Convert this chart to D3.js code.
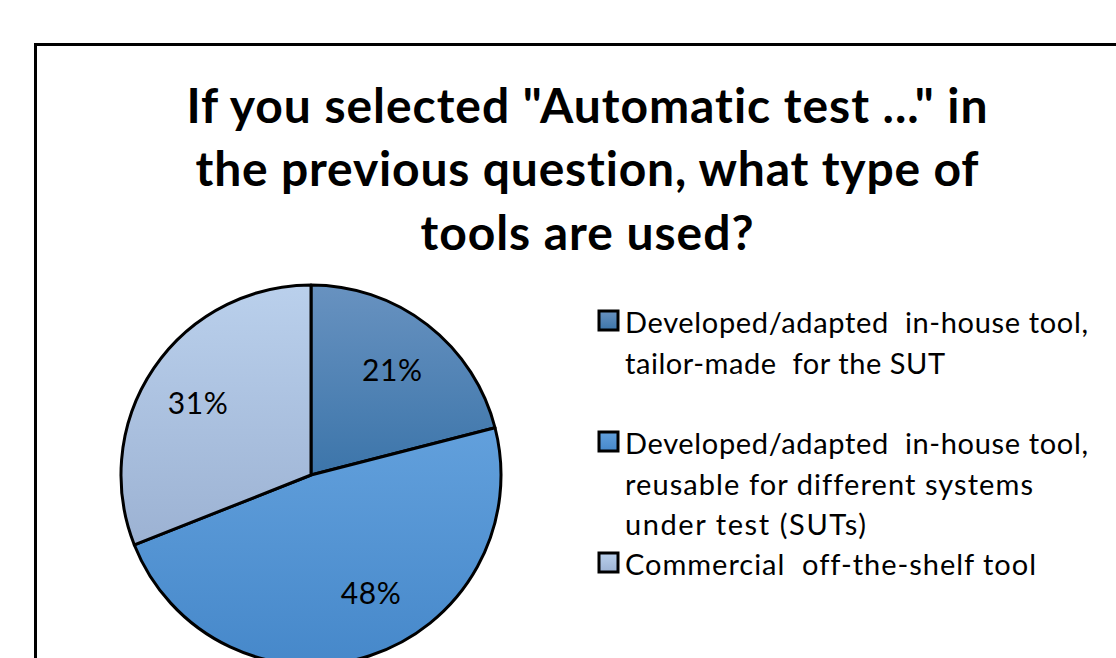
<!DOCTYPE html>
<html>
<head>
<meta charset="utf-8">
<script src="https://cdn.jsdelivr.net/npm/d3@7"></script>
<style>
  html, body { margin: 0; padding: 0; background: #fff; overflow: hidden; }
  svg { display: block; }
  text { font-variant-ligatures: none; }
</style>
</head>
<body>
<svg id="chart" width="1116" height="658"></svg>
<script>
// Survey answers (share of respondents)
const categories = [
  "Developed/adapted in-house tool, tailor-made for the SUT",
  "Developed/adapted in-house tool, reusable for different systems under test (SUTs)",
  "Commercial off-the-shelf tool"
];
const values = [21, 48, 31];
const valueLabels = ["21%", "48%", "31%"];
const legendLines = [
  ["Developed/adapted  in-house tool,", "tailor-made  for the SUT"],
  ["Developed/adapted  in-house tool,", "reusable for different systems", "under test (SUTs)"],
  ["Commercial  off-the-shelf tool"]
];
const titleLines = [
  "If you selected \"Automatic test ...\" in",
  "the previous question, what type of",
  "tools are used?"
];
// gradient stops per slice: [top, bottom]
const sliceGradients = [
  ["#6892c0", "#3c75aa"],
  ["#62a0dc", "#4688ca"],
  ["#bad0ec", "#9cb2d3"]
];

const svg = d3.select("#chart");
const font = "Lato, 'Open Sans', sans-serif";

// chart frame
svg.append("rect")
  .attr("x", 35.5).attr("y", 44.5)
  .attr("width", 1200).attr("height", 800)
  .attr("fill", "#fff").attr("stroke", "#000").attr("stroke-width", 3);

// title, each line stretched to its set width
const titleWidths = [801, 783, 333];
const titleBase = [123, 186, 250];
const titleG = svg.append("g");
titleLines.forEach((t, i) => {
  titleG.append("text")
    .attr("x", 587).attr("y", titleBase[i])
    .attr("text-anchor", "middle")
    .attr("font-family", font)
    .attr("font-weight", 700)
    .attr("font-size", 48)
    .attr("textLength", titleWidths[i])
    .attr("lengthAdjust", "spacing")
    .text(t);
});

// pie
const cx = 311, cy = 475, r = 190;
const defs = svg.append("defs");
sliceGradients.forEach((g, i) => {
  const lg = defs.append("linearGradient")
    .attr("id", "slice-grad-" + i)
    .attr("x1", 0).attr("y1", 0).attr("x2", 0).attr("y2", 1);
  lg.append("stop").attr("offset", "0%").attr("stop-color", g[0]);
  lg.append("stop").attr("offset", "100%").attr("stop-color", g[1]);
});

const pie = d3.pie().sort(null).value(d => d);
const arcs = pie(values);
const arc = d3.arc().innerRadius(0).outerRadius(r);

const pieG = svg.append("g").attr("transform", `translate(${cx},${cy})`);
pieG.selectAll("path.slice")
  .data(arcs)
  .join("path")
  .attr("class", "slice")
  .attr("d", arc)
  .attr("fill", (d, i) => `url(#slice-grad-${i})`)
  .attr("stroke", "#000")
  .attr("stroke-width", 3)
  .attr("stroke-linejoin", "round");

// value labels (best-fit nudges from the slice centroid)
const labelNudge = [[0, 0], [19, -7], [-4, 2]];
const labelArc = d3.arc().innerRadius(r * 0.695).outerRadius(r * 0.695);
pieG.selectAll("text.val")
  .data(arcs)
  .join("text")
  .attr("class", "val")
  .attr("transform", (d, i) => {
    const [x, y] = labelArc.centroid(d);
    return `translate(${x + labelNudge[i][0]},${y + labelNudge[i][1]})`;
  })
  .attr("text-anchor", "middle")
  .attr("dy", "0.36em")
  .attr("font-family", font)
  .attr("font-size", 30)
  .attr("textLength", 60)
  .attr("lengthAdjust", "spacing")
  .attr("fill", "#000")
  .text((d, i) => valueLabels[i]);

// legend
const legendMarkerY = [311, 432, 553];
const legendWidths = [[463, 320], [463, 408, 241], [411]];
const lineGap = 40.5;
const legendG = svg.append("g");
categories.forEach((c, i) => {
  legendG.append("rect")
    .attr("x", 599).attr("y", legendMarkerY[i])
    .attr("width", 19).attr("height", 19)
    .attr("fill", `url(#slice-grad-${i})`)
    .attr("stroke", "#000").attr("stroke-width", 3);
  legendLines[i].forEach((line, j) => {
    legendG.append("text")
      .attr("x", 625)
      .attr("y", legendMarkerY[i] + 22 + j * lineGap)
      .attr("font-family", font)
      .attr("font-size", 29)
      .attr("textLength", legendWidths[i][j])
      .attr("lengthAdjust", "spacing")
      .attr("fill", "#000")
      .style("white-space", "pre")
      .text(line);
  });
});
</script>
</body>
</html>
